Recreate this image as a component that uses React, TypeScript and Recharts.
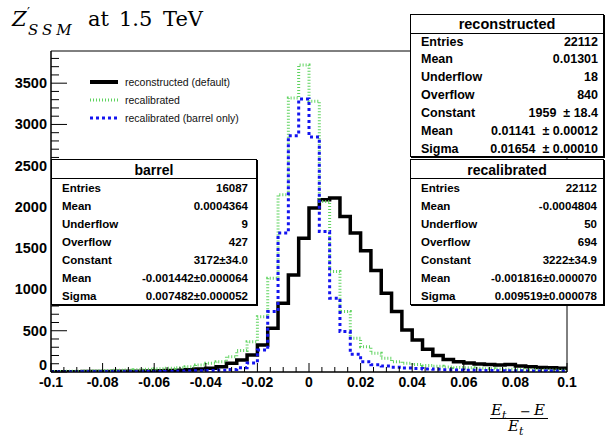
import React from 'react';
import { ComposedChart, Line, XAxis, YAxis, ReferenceArea } from 'recharts';

// bin contents, 50 bins of width 0.004 between -0.1 and 0.1
const reconstructed = [
  3, 4, 4, 5, 6, 7, 8, 9, 10, 12, 14, 17, 20, 26, 35, 45, 65, 105, 146, 206, 328, 530, 834, 1177, 1622,
  1986, 2087, 2108, 1885, 1683, 1470, 1230, 955, 732, 510, 388, 275, 200, 150, 125, 108, 98, 90, 84, 92, 72, 64, 56, 50, 44,
];
const recalibrated = [
  7, 8, 10, 12, 14, 17, 20, 23, 27, 32, 38, 45, 52, 64, 85, 105, 125, 186, 260, 368, 671, 1137, 2148, 3320, 3720,
  3280, 2067, 1217, 732, 409, 307, 227, 166, 125, 105, 90, 80, 70, 62, 55, 50, 45, 40, 36, 33, 30, 28, 25, 23, 21,
];
const barrelOnly = [
  1, 1, 1, 2, 2, 2, 3, 3, 4, 5, 6, 7, 9, 11, 14, 18, 22, 30, 50, 109, 267, 732, 1683, 2864, 3309,
  2848, 1703, 894, 490, 215, 125, 88, 72, 58, 48, 42, 36, 32, 28, 25, 22, 20, 18, 16, 15, 14, 13, 12, 11, 10,
];

const X_MIN = -0.1;
const X_MAX = 0.1;
const BIN_WIDTH = 0.004;
const Y_MAX = 3890;

const xLabelTicks = [-0.1, -0.08, -0.06, -0.04, -0.02, 0, 0.02, 0.04, 0.06, 0.08, 0.1];
const yLabelTicks = [0, 500, 1000, 1500, 2000, 2500, 3000, 3500];

const reconStats = [
  ['Entries', '22112'],
  ['Mean', '0.01301'],
  ['Underflow', '18'],
  ['Overflow', '840'],
  ['Constant', '1959  \u00b1 18.4'],
  ['Mean', '0.01141  \u00b1 0.00012'],
  ['Sigma', '0.01654  \u00b1 0.00010'],
];
const barrelStats = [
  ['Entries', '16087'],
  ['Mean', '0.0004364'],
  ['Underflow', '9'],
  ['Overflow', '427'],
  ['Constant', '3172\u00b134.0'],
  ['Mean', '-0.001442\u00b10.000064'],
  ['Sigma', '0.007482\u00b10.000052'],
];
const recalStats = [
  ['Entries', '22112'],
  ['Mean', '-0.0004804'],
  ['Underflow', '50'],
  ['Overflow', '694'],
  ['Constant', '3222\u00b134.9'],
  ['Mean', '-0.001816\u00b10.000070'],
  ['Sigma', '0.009519\u00b10.000078'],
];

const legendItems = [
  { label: 'reconstructed (default)', color: '#000', width: 4, dash: undefined },
  { label: 'recalibrated', color: '#5fd35f', width: 3, dash: '1 2' },
  { label: 'recalibrated (barrel only)', color: '#1414f0', width: 3, dash: '3 3' },
];

// histogram table: one point per bin low edge, plus the upper edge of the last bin
const table = reconstructed.map((v, i) => ({
  x: +(X_MIN + i * BIN_WIDTH).toFixed(3),
  reco: v,
  recal: recalibrated[i],
  barrel: barrelOnly[i],
}));
table.push({
  x: X_MAX,
  reco: reconstructed[reconstructed.length - 1],
  recal: recalibrated[recalibrated.length - 1],
  barrel: barrelOnly[barrelOnly.length - 1],
});

const xTicks = Array.from({ length: 41 }, (_, i) => Math.round((X_MIN + i * 0.005) * 1000) / 1000);
const yTicks = Array.from({ length: 39 }, (_, i) => i * 100);

const sans = '"Liberation Sans", Arial, Helvetica, sans-serif';
const serif = '"DejaVu Serif", serif';

const XTick = (props: any) => {
  const { x, y, payload } = props;
  const v = payload.value as number;
  const major = xLabelTicks.some((t) => Math.abs(t - v) < 1e-6);
  return (
    <g>
      <line x1={x} x2={x} y1={y} y2={y - (major ? 9 : 5)} stroke="#000" strokeWidth={1} />
      {major && (
        <text x={x} y={y + 15} textAnchor="middle" fontFamily={sans} fontWeight="bold" fontSize={14} fill="#000">
          {v === 0 ? '0' : String(+v.toFixed(2))}
        </text>
      )}
    </g>
  );
};

const YTick = (props: any) => {
  const { x, y, payload } = props;
  const v = payload.value as number;
  const major = yLabelTicks.includes(v);
  return (
    <g>
      <line x1={x} x2={x + (major ? 16 : 8)} y1={y} y2={y} stroke="#000" strokeWidth={1} />
      {major && (
        <text
          x={x - 4}
          y={v === 0 ? y - 2 : y + 5}
          textAnchor="end"
          fontFamily={sans}
          fontWeight="bold"
          fontSize={14.5}
          fill="#000"
        >
          {v}
        </text>
      )}
    </g>
  );
};

interface StatsBoxProps {
  left: number;
  top: number;
  width: number;
  height: number;
  title: string;
  rows: string[][];
  titleSize: number;
  rowSize: number;
  titleCenter: number;
  separator: number;
  firstRow: number;
  rowStep: number;
  padLeft: number;
  padRight: number;
}

const StatsBox: React.FC<StatsBoxProps> = (p) => (
  <div
    style={{
      position: 'absolute',
      left: p.left,
      top: p.top,
      width: p.width,
      height: p.height,
      boxSizing: 'border-box',
      border: '1px solid #000',
      boxShadow: '1px 1px 0 #000',
      background: '#fff',
      fontFamily: sans,
      fontWeight: 'bold',
      color: '#000',
    }}
  >
    <div
      style={{
        position: 'absolute',
        left: 0,
        right: 0,
        top: p.titleCenter - p.top - 10,
        height: 20,
        lineHeight: '20px',
        textAlign: 'center',
        fontSize: p.titleSize,
      }}
    >
      {p.title}
    </div>
    <div style={{ position: 'absolute', left: 0, right: 0, top: p.separator - p.top - 1, borderTop: '1px solid #000' }} />
    {p.rows.map(([label, value], i) => (
      <div
        key={i}
        style={{
          position: 'absolute',
          left: p.padLeft,
          right: p.padRight,
          top: p.firstRow + i * p.rowStep - p.top - 9,
          height: 18,
          lineHeight: '18px',
          fontSize: p.rowSize,
          display: 'flex',
          justifyContent: 'space-between',
          whiteSpace: 'pre',
        }}
      >
        <span>{label}</span>
        <span>{value}</span>
      </div>
    ))}
  </div>
);

const App: React.FC = () => {
  return (
    <div style={{ position: 'relative', width: 608, height: 437, overflow: 'hidden', background: '#fff' }}>
      <style>{'body{margin:0}'}</style>
      <ComposedChart width={608} height={437} data={table} margin={{ top: 51, right: 41, bottom: 35, left: 0 }}>
        <XAxis
          dataKey="x"
          type="number"
          domain={[X_MIN, X_MAX]}
          allowDataOverflow
          ticks={xTicks}
          interval={0}
          tickSize={0}
          tickMargin={0}
          tickLine={false}
          tick={<XTick />}
          axisLine={{ stroke: '#000' }}
          height={30}
        />
        <YAxis
          type="number"
          domain={[0, Y_MAX]}
          allowDataOverflow
          ticks={yTicks}
          interval={0}
          tickSize={0}
          tickMargin={0}
          tickLine={false}
          tick={<YTick />}
          axisLine={{ stroke: '#000' }}
          width={51}
        />
        <ReferenceArea x1={X_MIN} x2={X_MAX} y1={0} y2={Y_MAX} fill="none" stroke="#000" strokeWidth={1} />
        <Line type="stepAfter" dataKey="reco" stroke="#000" strokeWidth={3.5} dot={false} isAnimationActive={false} />
        <Line
          type="stepAfter"
          dataKey="recal"
          stroke="#5fd35f"
          strokeWidth={3}
          strokeDasharray="1 2"
          dot={false}
          isAnimationActive={false}
        />
        <Line
          type="stepAfter"
          dataKey="barrel"
          stroke="#1414f0"
          strokeWidth={3}
          strokeDasharray="3 3"
          dot={false}
          isAnimationActive={false}
        />
      </ComposedChart>

      {/* title */}
      <div style={{ position: 'absolute', left: 0, top: 0, fontFamily: serif, color: '#000', lineHeight: 1 }}>
        <span style={{ position: 'absolute', left: 12, top: 9, fontSize: 21, fontStyle: 'italic' }}>Z</span>
        <span style={{ position: 'absolute', left: 27, top: 6, fontSize: 13 }}>{'\u2032'}</span>
        <span style={{ position: 'absolute', left: 28, top: 23, fontSize: 15, fontStyle: 'italic', letterSpacing: 4 }}>
          SSM
        </span>
        <span style={{ position: 'absolute', left: 88, top: 9, fontSize: 21 }}>at</span>
        <span style={{ position: 'absolute', left: 119, top: 9, fontSize: 21 }}>1.5</span>
        <span style={{ position: 'absolute', left: 163, top: 9, fontSize: 21 }}>TeV</span>
      </div>

      {/* legend */}
      <div style={{ position: 'absolute', left: 0, top: 0 }}>
        {legendItems.map((item, i) => (
          <div key={item.label} style={{ position: 'absolute', left: 90, top: 73 + i * 17.8, height: 18, width: 200 }}>
            <svg width={30} height={18} style={{ position: 'absolute', left: 0, top: 0 }}>
              <line
                x1={0}
                x2={28}
                y1={9}
                y2={9}
                stroke={item.color}
                strokeWidth={item.width}
                strokeDasharray={item.dash}
              />
            </svg>
            <span
              style={{
                position: 'absolute',
                left: 35,
                top: 0,
                lineHeight: '18px',
                fontFamily: sans,
                fontSize: 10.5,
                color: '#111',
                whiteSpace: 'nowrap',
              }}
            >
              {item.label}
            </span>
          </div>
        ))}
      </div>

      {/* stats boxes */}
      <StatsBox
        left={410}
        top={14}
        width={194}
        height={143}
        title="reconstructed"
        rows={reconStats}
        titleSize={14.5}
        rowSize={12.5}
        titleCenter={23}
        separator={33}
        firstRow={40.5}
        rowStep={17.9}
        padLeft={10}
        padRight={5}
      />
      <StatsBox
        left={51}
        top={159}
        width={206}
        height={146}
        title="barrel"
        rows={barrelStats}
        titleSize={14}
        rowSize={11.5}
        titleCenter={169}
        separator={178}
        firstRow={186.5}
        rowStep={18}
        padLeft={10}
        padRight={8}
      />
      <StatsBox
        left={410}
        top={159}
        width={194}
        height={146}
        title="recalibrated"
        rows={recalStats}
        titleSize={14}
        rowSize={11.5}
        titleCenter={169}
        separator={178}
        firstRow={186.5}
        rowStep={18}
        padLeft={10}
        padRight={6}
      />

      {/* x axis title (E_t - E) / E_t */}
      <div style={{ position: 'absolute', left: 0, top: 0, fontFamily: serif, color: '#000', lineHeight: 1 }}>
        <span style={{ position: 'absolute', left: 491, top: 403, fontSize: 15, fontStyle: 'italic' }}>E</span>
        <span style={{ position: 'absolute', left: 502, top: 410, fontSize: 11, fontStyle: 'italic' }}>t</span>
        <span style={{ position: 'absolute', left: 520, top: 405, fontSize: 13 }}>{'\u2212'}</span>
        <span style={{ position: 'absolute', left: 534, top: 403, fontSize: 15, fontStyle: 'italic' }}>E</span>
        <div style={{ position: 'absolute', left: 490, top: 418, width: 58, borderTop: '1px solid #000' }} />
        <span style={{ position: 'absolute', left: 508, top: 419, fontSize: 15, fontStyle: 'italic' }}>E</span>
        <span style={{ position: 'absolute', left: 519, top: 426, fontSize: 11, fontStyle: 'italic' }}>t</span>
      </div>
    </div>
  );
};

export default App;
